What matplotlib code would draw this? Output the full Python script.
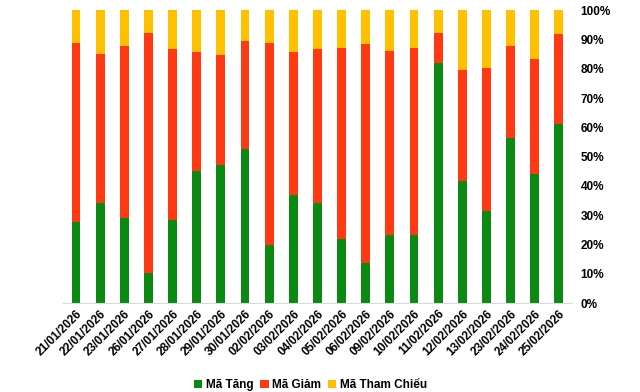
import numpy as np
import matplotlib.pyplot as plt
from matplotlib.ticker import PercentFormatter

plt.rcParams['font.family'] = ['Liberation Sans', 'DejaVu Sans']

dates = ["21/01/2026", "22/01/2026", "23/01/2026", "26/01/2026", "27/01/2026",
         "28/01/2026", "29/01/2026", "30/01/2026", "02/02/2026", "03/02/2026",
         "04/02/2026", "05/02/2026", "06/02/2026", "09/02/2026", "10/02/2026",
         "11/02/2026", "12/02/2026", "13/02/2026", "23/02/2026", "24/02/2026",
         "25/02/2026"]
# percent of tickers
tang = [27.8, 34.0, 29.2, 10.3, 28.5, 45.1, 47.2, 52.6, 19.9, 36.9, 34.3,
        21.9, 13.5, 23.1, 23.3, 82.0, 41.7, 31.5, 56.5, 43.9, 61.2]
giam = [60.9, 51.0, 58.5, 81.9, 58.2, 40.6, 37.5, 36.8, 68.8, 48.8, 52.4,
        65.1, 74.9, 62.9, 63.7, 10.2, 37.8, 48.6, 31.2, 39.4, 30.6]
tham_chieu = [11.3, 15.0, 12.3, 7.8, 13.3, 14.3, 15.3, 10.6, 11.3, 14.3, 13.3,
              13.0, 11.6, 14.0, 13.0, 7.8, 20.5, 19.9, 12.3, 16.7, 8.2]

fig = plt.figure(figsize=(6.4, 3.92), dpi=100)
ax = fig.add_axes([0.098, 0.227, 0.796, 0.747])

x = np.arange(len(dates))
w = 0.37
tang = np.array(tang)
giam = np.array(giam)
tham_chieu = np.array(tham_chieu)
ax.bar(x, tang, w, color='#0a8a12', label='Mã Tăng')
ax.bar(x, giam, w, bottom=tang, color='#ff3a12', label='Mã Giảm')
ax.bar(x, tham_chieu, w, bottom=tang + giam, color='#ffc000', label='Mã Tham Chiếu')

ax.set_ylim(0, 100)
ax.set_xlim(-0.55, len(dates) - 0.45)
ax.set_yticks(np.arange(0, 101, 10))
ax.yaxis.set_major_formatter(PercentFormatter(decimals=0))
ax.yaxis.tick_right()
ax.set_xticks(x)
ax.set_xticklabels(dates, rotation=45, ha='right', rotation_mode='anchor')
ax.tick_params(length=0, labelsize=8.5)
ax.tick_params(axis='y', pad=6)
for lab in ax.get_xticklabels() + ax.get_yticklabels():
    lab.set_fontweight('bold')

for s in ['top', 'left', 'right']:
    ax.spines[s].set_visible(False)
ax.spines['bottom'].set_color('#d9d9d9')

fig.legend(loc='lower center', bbox_to_anchor=(0.485, -0.025), ncol=3, frameon=False,
           handlelength=0.7, handleheight=0.7, handletextpad=0.3, columnspacing=0.6,
           prop={'weight': 'bold', 'size': 8.5})

fig.savefig('out.png', dpi=100)
